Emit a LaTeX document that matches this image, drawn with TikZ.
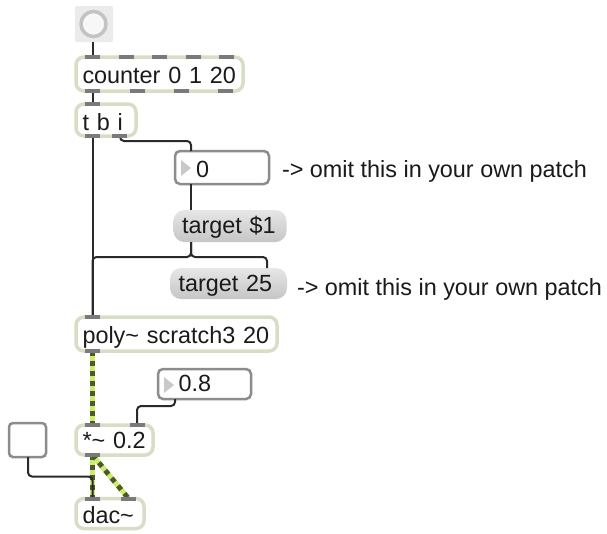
\documentclass[tikz,border=0pt]{standalone}
\usepackage{fontspec}
\setmainfont{Liberation Sans}
\usetikzlibrary{calc}
\definecolor{objborder}{HTML}{D6DEC6}
\definecolor{numborder}{HTML}{8C8C8C}
\definecolor{inletc}{HTML}{7A7A7A}
\definecolor{cordc}{HTML}{2A2A2A}
\definecolor{txt}{HTML}{1A1A1A}
\definecolor{msgtop}{HTML}{E6E6E6}
\definecolor{msgbot}{HTML}{C6C6C6}
\definecolor{sigdark}{HTML}{4B5A2A}
\definecolor{siglight}{HTML}{CDEC6A}
\definecolor{tri}{HTML}{C9C9C9}
\definecolor{bangbg}{HTML}{EBEBEB}
\definecolor{bangring}{HTML}{C3C3C3}
\newcommand{\tld}{\string~}
\newcommand{\inl}[2]{\fill[inlet] ([xshift=#2,yshift=2pt]#1) rectangle ++(15,4);}
\begin{document}
\begin{tikzpicture}[x=1pt,y=-1pt,
  every node/.style={outer sep=0pt, inner ysep=0pt, text depth=0pt, font=\fontsize{23.4pt}{27pt}\selectfont, text=txt, align=left},
  obj/.style={draw=objborder, line width=3.5pt, fill=white, rounded corners=8pt, inner xsep=6.5pt, anchor=north west},
  numbox/.style={draw=numborder, line width=2.5pt, fill=white, rounded corners=5pt, inner xsep=0pt, anchor=north west},
  msg/.style={top color=msgtop, bottom color=msgbot, draw=none, rounded corners=11pt, inner xsep=8.5pt, anchor=north west},
  inlet/.style={fill=inletc},
  cord/.style={draw=cordc, line width=2pt},
  sig/.style={draw=sigdark, line width=5pt, dash pattern=on 5pt off 5pt, preaction={draw=siglight, solid, line width=5pt}},
  lbl/.style={anchor=base west, inner sep=0pt}]
\fill[white] (0,0) rectangle (607,533);
\useasboundingbox (0,0) rectangle (607,533);

% bang
\node[fill=bangbg, rounded corners=2pt, minimum width=38pt, minimum height=36pt, inner sep=0pt, anchor=north west] (bang) at (75,6) {};
\node[circle, draw=bangring, line width=3.5pt, fill=white!60!bangbg, minimum size=25pt, inner sep=0pt] (bangc) at (93.5,24) {};

% object boxes
\node[obj, text width=154pt, minimum height=34pt, text height=18.6pt] (counter) at (76,57) {counter 0 1 20};
\node[obj, text width=47pt, minimum height=32pt, text height=20pt] (tbi) at (76,104) {t b i};
\node[obj, text width=188pt, minimum height=34pt, text height=18.6pt] (poly) at (76,317) {poly\tld{} scratch3 20};
\node[obj, text width=64pt, minimum height=30pt, text height=16.6pt] (mul) at (76,425) {*\tld{} 0.2};
\node[obj, text width=55pt, minimum height=30pt, text height=19.8pt] (dac) at (76,498.5) {dac\tld};

% number boxes
\node[numbox, text width=94pt, minimum height=33pt, text height=19pt] (num0) at (175,151) {\hspace*{21pt}0};
\fill[tri] (181,160) -- (181,176) -- (191,168) -- cycle;
\node[numbox, text width=93pt, minimum height=30pt, text height=15.4pt] (num08) at (158,369) {\hspace*{20.5pt}0.8};
\fill[tri] (164,377) -- (164,393) -- (174,385) -- cycle;

% toggle
\node[draw=numborder, line width=2.5pt, fill=white, rounded corners=4pt, minimum width=37pt, minimum height=34pt, inner sep=0pt, anchor=north west] (toggle) at (9,423) {};

% message boxes
\node[msg, text width=96pt, minimum height=32pt, text height=14.6pt] (target1) at (173.5,210) {target \$1};
\node[msg, text width=100pt, minimum height=31pt, text height=16.4pt] (target25) at (170,268) {target 25};

% comments
\node[lbl] (c1) at (282,177) {-> omit this in your own patch};
\node[lbl] (c2) at (297,295) {-> omit this in your own patch};

% cords
\draw[cord] ([xshift=17.5pt]bang.south west) -- ([xshift=16.5pt]counter.north west);
\draw[cord] ([xshift=16.5pt]counter.south west) -- ([xshift=16.5pt]tbi.north west);
\draw[cord] ([xshift=16.5pt]tbi.south west) -- ([xshift=16.5pt]poly.north west);
\draw[cord, rounded corners=4pt] ([xshift=44pt]tbi.south west) |- ([xshift=16pt,yshift=10pt]num0.north west) -- ([xshift=16pt]num0.north west);
\draw[cord] ([xshift=16pt]num0.south west) -- ([xshift=17.5pt]target1.north west);
\draw[cord, rounded corners=4pt] ([xshift=17.5pt]target1.south west) -- ++(0,15) -| ([xshift=16.5pt]poly.north west);
\draw[cord, rounded corners=4pt] ([xshift=17.5pt]target1.south west) -- ++(0,15) -| ([xshift=97pt]target25.north west);
\draw[cord, rounded corners=4pt] ([xshift=17pt]num08.south west) -- ++(0,7) -| ([xshift=61pt]mul.north west);

% signal cords
\draw[sig] ([xshift=16.5pt]poly.south west) -- ([xshift=16.5pt]mul.north west);
\draw[sig] ([xshift=16.5pt]mul.south west) -- ([xshift=16.5pt]dac.north west);
\draw[sig] ([xshift=16.5pt]mul.south west) -- ([xshift=52.5pt]dac.north west);

\draw[cord, rounded corners=4pt] ([xshift=19pt]toggle.south west) |- ([xshift=16.5pt,yshift=22pt]dac.north west) -- ([xshift=16.5pt]dac.north west);

% inlets / outlets
\inl{counter.north west}{9pt}
\inl{counter.north west}{42.5pt}
\inl{counter.north west}{76pt}
\inl{counter.north west}{109.5pt}
\inl{counter.north west}{143pt}
\inl{counter.south west}{9pt}
\inl{counter.south west}{54pt}
\inl{counter.south west}{98pt}
\inl{counter.south west}{142pt}
\inl{tbi.north west}{9pt}
\inl{tbi.south west}{9pt}
\inl{tbi.south west}{36pt}
\inl{poly.north west}{9pt}
\inl{poly.south west}{9pt}
\inl{mul.north west}{9pt}
\inl{mul.north west}{54pt}
\inl{mul.south west}{9pt}
\inl{dac.north west}{9pt}
\inl{dac.north west}{45pt}
\end{tikzpicture}
\end{document}
